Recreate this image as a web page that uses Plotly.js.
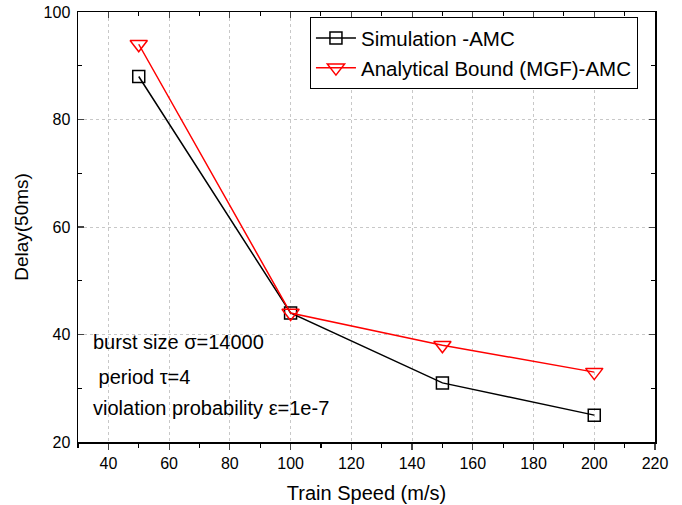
<!DOCTYPE html>
<html><head><meta charset="utf-8">
<script src="https://cdn.plot.ly/plotly-3.0.1.min.js"></script>
<style>body{margin:0;background:#fff}#c{width:682px;height:505px}</style>
</head><body><div id="c"></div>
<script>
const speeds = [50, 100, 150, 200];
const simDelay = [88, 44, 31, 25];
const boundDelay = [94, 44, 38, 33];
const xTicks = [40, 60, 80, 100, 120, 140, 160, 180, 200, 220];
const yTicks = [20, 40, 60, 80, 100];
const notes = ["burst size σ=14000", " period τ=4", "violation probability ε=1e-7"];

const font = {family: "Liberation Sans, Arial, sans-serif", color: "#000"};
const traces = [
  {x: speeds, y: simDelay, mode: "lines+markers", name: "Simulation -AMC",
   line: {color: "#000", width: 1.5},
   marker: {symbol: "square-open", size: 12, color: "#000", line: {width: 1.5}}},
  {x: speeds, y: boundDelay, mode: "lines+markers", name: "Analytical Bound (MGF)-AMC",
   line: {color: "#ff0000", width: 1.5},
   marker: {symbol: "triangle-down-open", size: 15, color: "#ff0000", line: {width: 1.5}}}
];
const noteY = [0.233, 0.151, 0.079];
const layout = {
  width: 682, height: 505,
  margin: {l: 78, r: 27, t: 12, b: 63},
  paper_bgcolor: "#fff", plot_bgcolor: "#fff",
  font: Object.assign({size: 16}, font),
  showlegend: true,
  legend: {x: 0.402, y: 0.988, xanchor: "left", yanchor: "top",
    bordercolor: "#000", borderwidth: 1, bgcolor: "#fff",
    font: Object.assign({size: 20.5}, font), tracegroupgap: 0, itemwidth: 40},
  xaxis: {range: [30, 220], tickvals: xTicks, ticks: "outside", ticklen: 6, tickwidth: 1.2,
    showline: true, linecolor: "#000", linewidth: 1.5, zeroline: false,
    showgrid: true, gridcolor: "#c8c8c8", griddash: "dot", gridwidth: 1,
    minor: {dtick: 10, tick0: 0, ticks: "outside", ticklen: 4, tickcolor: "#000", showgrid: false},
    tickfont: Object.assign({size: 16}, font),
    title: {text: "Train Speed (m/s)", font: Object.assign({size: 20}, font), standoff: 15}},
  yaxis: {range: [20, 100], tickvals: yTicks, ticks: "inside", ticklen: 6, tickwidth: 1.2,
    showline: true, linecolor: "#000", linewidth: 1.5, zeroline: false,
    showgrid: true, gridcolor: "#c8c8c8", griddash: "dot", gridwidth: 1,
    minor: {dtick: 10, tick0: 0, ticks: "inside", ticklen: 4, tickcolor: "#000", showgrid: false},
    tickfont: Object.assign({size: 16}, font), ticklabelstandoff: 3,
    title: {text: "Delay(50ms)", font: Object.assign({size: 19}, font), standoff: 10}},
  xaxis2: {overlaying: "x", side: "top", range: [30, 220], tickvals: xTicks, ticks: "inside",
    ticklen: 6, showticklabels: false, showline: true, linecolor: "#000", linewidth: 1.5,
    showgrid: false, zeroline: false,
    minor: {dtick: 10, tick0: 0, ticks: "inside", ticklen: 4, tickcolor: "#000", showgrid: false}},
  yaxis2: {overlaying: "y", side: "right", range: [20, 100], tickvals: yTicks, ticks: "inside",
    ticklen: 6, showticklabels: false, showline: true, linecolor: "#000", linewidth: 1.5,
    showgrid: false, zeroline: false,
    minor: {dtick: 10, tick0: 0, ticks: "inside", ticklen: 4, tickcolor: "#000", showgrid: false}},
  annotations: notes.map((t, i) => ({text: t, xref: "paper", yref: "paper", x: 0.022, y: noteY[i],
    xanchor: "left", yanchor: "middle", showarrow: false, font: Object.assign({size: 20}, font)}))
};
traces.push({x: [30], y: [20], xaxis: "x2", yaxis: "y2", mode: "markers", showlegend: false,
  hoverinfo: "skip", marker: {opacity: 0}});
Plotly.newPlot("c", traces, layout, {staticPlot: true});
</script></body></html>
